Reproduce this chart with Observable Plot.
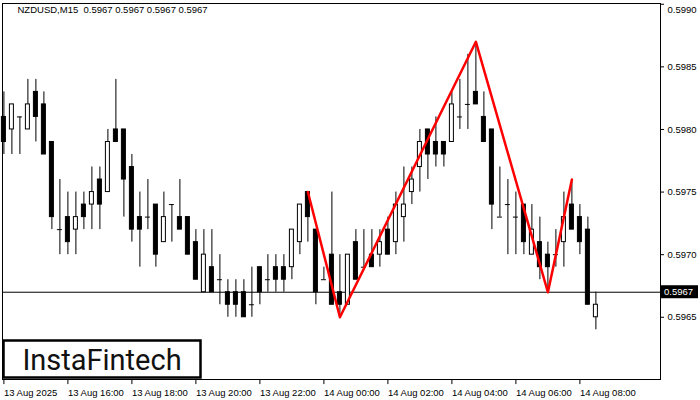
<!DOCTYPE html>
<html><head><meta charset="utf-8">
<script src="https://cdn.jsdelivr.net/npm/d3@7"></script>
<script src="https://cdn.jsdelivr.net/npm/@observablehq/plot@0.6"></script>
<style>body{margin:0;background:#fff} svg{display:block}</style>
</head><body><div id="chart"></div>
<script>
const symbolTitle = "NZDUSD,M15  0.5967 0.5967 0.5967 0.5967";
const opens  = [.5981,.5980,.5981,.5980,.5983,.5982,.5979,.5972,.5973,.5972,.5974,.5974,.5976,.5975,.5980,.5980,.5977,.5973,.5973,.5974,.5971,.5974,.5973,.5973,.5971,.5967,.5969,.5968,.5967,.5967,.5967,.5966,.5969,.5968,.5969,.5969,.5969,.5971,.5975,.5972,.5968,.5970,.5967,.5966,.5971,.5969,.5970,.5970,.5972,.5971,.5973,.5975,.5977,.5980,.5979,.5979,.5979,.5981,.5982,.5983,.5981,.5980,.5973,.5974,.5973,.5974,.5970,.5971,.5970,.5970,.5971,.5974,.5973,.5972,.5965];
const highs  = [.5983,.5982,.5981,.5984,.5984,.5983,.5979,.5976,.5975,.5975,.5975,.5977,.5977,.5980,.5984,.5980,.5978,.5975,.5976,.5974,.5975,.5974,.5976,.5973,.5972,.5972,.5972,.5970,.5968,.5968,.5968,.5969,.5969,.5970,.5970,.5970,.5972,.5974,.5975,.5972,.5969,.5975,.5970,.5970,.5972,.5972,.5972,.5972,.5973,.5975,.5977,.5977,.5980,.5980,.5981,.5979,.5983,.5984,.5986,.5987,.5983,.5980,.5977,.5976,.5975,.5974,.5974,.5973,.5971,.5972,.5975,.5976,.5974,.5973,.5967];
const lows   = [.5978,.5978,.5978,.5980,.5979,.5978,.5972,.5970,.5970,.5970,.5972,.5972,.5972,.5975,.5979,.5973,.5971,.5969,.5972,.5969,.5971,.5971,.5972,.5970,.5968,.5967,.5967,.5966,.5965,.5965,.5965,.5965,.5966,.5967,.5967,.5967,.5968,.5970,.5971,.5966,.5968,.5966,.5965,.5966,.5968,.5969,.5969,.5969,.5970,.5970,.5971,.5974,.5975,.5976,.5977,.5977,.5979,.5980,.5980,.5982,.5979,.5972,.5973,.5970,.5970,.5970,.5970,.5968,.5967,.5969,.5969,.5972,.5970,.5966,.5964];
const closes = [.5979,.5982,.5981,.5982,.5981,.5978,.5973,.5972,.5971,.5973,.5973,.5975,.5974,.5979,.5979,.5976,.5972,.5972,.5973,.5970,.5973,.5974,.5972,.5970,.5968,.5970,.5967,.5968,.5966,.5966,.5965,.5966,.5967,.5968,.5968,.5968,.5972,.5974,.5973,.5967,.5968,.5966,.5966,.5970,.5968,.5969,.5969,.5971,.5970,.5974,.5974,.5976,.5979,.5978,.5978,.5978,.5982,.5981,.5982,.5982,.5979,.5974,.5973,.5974,.5973,.5971,.5972,.5969,.5969,.5970,.5973,.5972,.5971,.5966,.5966];
const timeTickIndex = [0,8,16,24,32,40,48,56,64,72];
const timeTickLabels = ["13 Aug 2025","13 Aug 16:00","13 Aug 18:00","13 Aug 20:00","13 Aug 22:00","14 Aug 00:00","14 Aug 02:00","14 Aug 04:00","14 Aug 06:00","14 Aug 08:00"];
const priceTicks = [0.5965,0.5970,0.5975,0.5980,0.5985,0.5990];
const lastPrice = 0.5967;
const patternIndex = [38,42,59,68,71];
const patternPrice = [0.5975,0.5965,0.5987,0.5967,0.5976];
const brand = "InstaFintech";

const candles = opens.map((o,i)=>({k:i,o,h:highs[i],l:lows[i],c:closes[i]}));
const up = candles.filter(d=>d.c>d.o), down = candles.filter(d=>d.c<d.o), doji = candles.filter(d=>d.c===d.o);
const pattern = patternIndex.map((k,i)=>({k,p:patternPrice[i]}));
const W = 0.25;
const labelMap = new Map(timeTickIndex.map((k,i)=>[k,timeTickLabels[i]]));
const font = "'Liberation Sans', Arial, sans-serif";

const chart = Plot.plot({
  width:700, height:400, marginLeft:2, marginRight:40, marginTop:3, marginBottom:21,
  style:{fontFamily:font, fontSize:"9.5px", background:"#fff", color:"#000", overflow:"visible"},
  x:{type:"linear", domain:[-0.175, 82.075]},
  y:{domain:[0.596003, 0.599006]},
  marks:[
    Plot.ruleY([lastPrice], {stroke:"#000", strokeWidth:1}),
    Plot.ruleX(candles,{x:"k", y1:"l", y2:"h", stroke:"#000", strokeWidth:1}),
    Plot.rect(down,{x1:d=>d.k-W, x2:d=>d.k+W, y1:"o", y2:"c", fill:"#000", stroke:"#000"}),
    Plot.rect(up,{x1:d=>d.k-W, x2:d=>d.k+W, y1:"o", y2:"c", fill:"#fff", stroke:"#000"}),
    Plot.ruleY(doji,{y:"o", x1:d=>d.k-W-0.06, x2:d=>d.k+W+0.06, stroke:"#000"}),
    Plot.line(pattern,{x:"k", y:"p", stroke:"#ff0000", strokeWidth:2.5}),
    Plot.frame({stroke:"#000"}),
    Plot.axisX({ticks:timeTickIndex, tickFormat:d=>labelMap.get(d), tickSize:5, tickPadding:5, textAnchor:"start", label:null, fill:"#000"}),
    Plot.axisY({anchor:"right", ticks:priceTicks, tickFormat:d3.format(".4f"), tickSize:3, tickPadding:4, label:null, fill:"#000"}),
    Plot.text([symbolTitle],{frameAnchor:"top-left", dx:15, dy:3, fill:"#000", fontSize:9.5, textAnchor:"start"})
  ]
});
document.getElementById("chart").append(chart);

const svg = d3.select(chart);
// keep the top price label inside the picture
svg.selectAll("text").filter(function(){ return this.textContent === "0.5990"; }).attr("dy","0.6em");
const yS = chart.scale("y");
const yp = yS.apply(lastPrice);
svg.append("rect").attr("x",661).attr("y",yp-6.5).attr("width",37).attr("height",13).attr("fill","#000");
svg.append("text").attr("x",664).attr("y",yp).attr("dy","0.35em").attr("fill","#fff").attr("text-anchor","start")
  .attr("font-size","9.5px").attr("font-family",font).text(d3.format(".4f")(lastPrice));
svg.append("rect").attr("x",3.5).attr("y",340.5).attr("width",197).attr("height",37).attr("fill","#fff").attr("stroke","#000").attr("stroke-width",2.5);
svg.append("text").attr("x",102).attr("y",369.5).attr("fill","#111").attr("font-size","29px").attr("font-weight",400).attr("text-anchor","middle")
  .attr("font-family","Roboto, sans-serif").text(brand);
</script></body></html>
